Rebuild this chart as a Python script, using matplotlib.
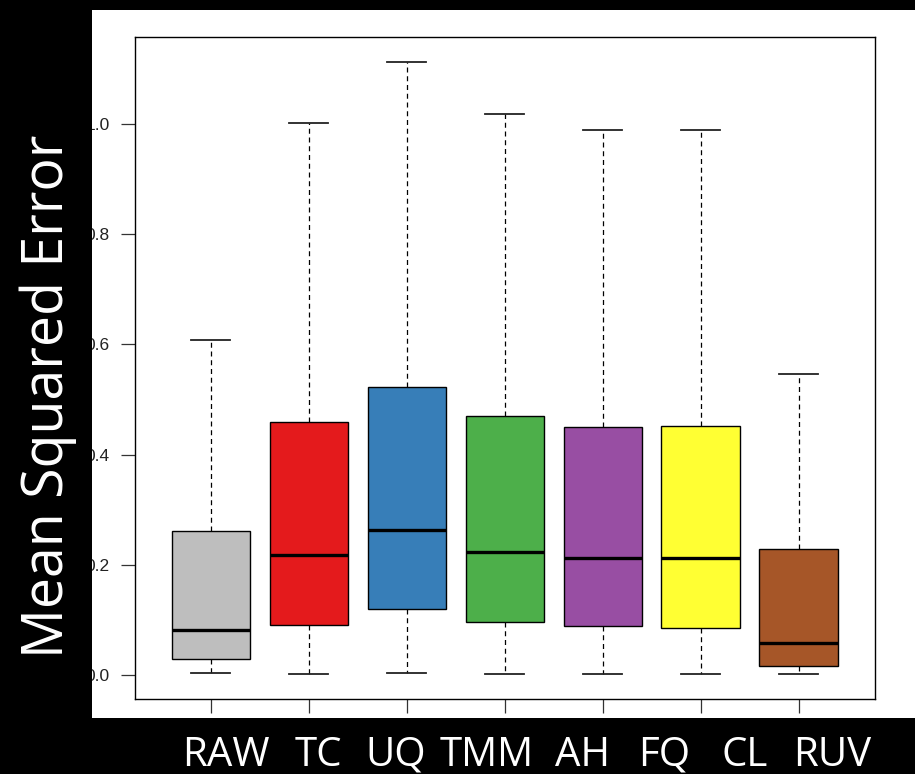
import matplotlib
matplotlib.use("Agg")
import matplotlib.pyplot as plt
from matplotlib.patches import Rectangle

# Box summaries (one per normalisation method, left to right)
whisker_low = [0.0036, 0.0013, 0.0030, 0.0018, 0.0013, 0.0013, 0.0007]
quartile_1 = [0.0279, 0.0900, 0.1204, 0.0968, 0.0888, 0.0859, 0.0163]
medians = [0.0810, 0.2175, 0.2626, 0.2230, 0.2120, 0.2120, 0.0587]
quartile_3 = [0.2620, 0.4590, 0.5227, 0.4694, 0.4500, 0.4526, 0.2284]
whisker_high = [0.6080, 1.0018, 1.1135, 1.0187, 0.9890, 0.9889, 0.5460]
box_colors = ["#BEBEBE", "#E41A1C", "#377EB8", "#4DAF4A", "#984EA3", "#FFFF33", "#A65628"]

# Method names written under the plot
method_labels = ["RAW", "TC", "UQ", "TMM", "AH", "FQ", "CL", "RUV"]
method_label_x = [226, 318, 396, 487, 583, 664, 745, 832]

y_ticks = [0.0, 0.2, 0.4, 0.6, 0.8, 1.0]

W, H = 915, 774
fig = plt.figure(figsize=(W / 100, H / 100), dpi=100, facecolor="black")

# white plotting panel
fig.patches.append(Rectangle((92 / W, 1 - 718 / H), 1 - 92 / W, (718 - 10) / H,
                             transform=fig.transFigure, facecolor="white",
                             edgecolor="none", zorder=-1))

ax = fig.add_axes([134.5 / W, 1 - 699 / H, (875 - 134.5) / W, (699 - 37) / H])

stats = []
for lo, a, m, b, hi in zip(whisker_low, quartile_1, medians, quartile_3, whisker_high):
    stats.append(dict(whislo=lo, q1=a, med=m, q3=b, whishi=hi, fliers=[]))

positions = list(range(1, len(stats) + 1))
bp = ax.bxp(stats, positions=positions, widths=0.8, capwidths=0.4,
            patch_artist=True, showfliers=False,
            boxprops=dict(edgecolor="black", linewidth=1.0),
            medianprops=dict(color="black", linewidth=2.4, solid_capstyle="butt"),
            whiskerprops=dict(color="black", linewidth=0.9, linestyle=(0, (4, 3))),
            capprops=dict(color="#222222", linewidth=1.3))
for patch, c in zip(bp["boxes"], box_colors):
    patch.set_facecolor(c)

# R-style 4% padding around the data range
lo_all, hi_all = min(whisker_low), max(whisker_high)
pad = 0.04 * (hi_all - lo_all)
ax.set_ylim(lo_all - pad, hi_all + pad)
n = len(stats)
ax.set_xlim(0.5 - 0.04 * n, n + 0.5 + 0.04 * n)

ax.set_xticks(positions)
ax.set_xticklabels([])
ax.set_yticks(y_ticks)
ax.set_yticklabels([f"{v:.1f}" for v in y_ticks], fontsize=12.5,
                   family=["Liberation Sans", "DejaVu Sans"], color="#222222")
ax.tick_params(axis="both", direction="out", length=10, width=0.9, color="#333333")
ax.tick_params(axis="y", pad=8)
for s in ax.spines.values():
    s.set_linewidth(1.0)
    s.set_color("black")

# black band on the left, hiding part of the tick labels
fig.patches.append(Rectangle((0, 0), 92 / W, 1, transform=fig.transFigure,
                             facecolor="black", edgecolor="none", zorder=5))

fig.text(48 / W, 1 - 396.5 / H, "Mean Squared Error", rotation=90,
         ha="center", va="center", color="white", fontsize=40,
         family=["Open Sans", "DejaVu Sans"], zorder=10)

for lab, x in zip(method_labels, method_label_x):
    fig.text(x / W, 1 - 766 / H, lab, ha="center", va="baseline",
             color="white", fontsize=29, family=["Open Sans", "DejaVu Sans"],
             zorder=10)

fig.savefig("out.png", dpi=100, facecolor="black")
